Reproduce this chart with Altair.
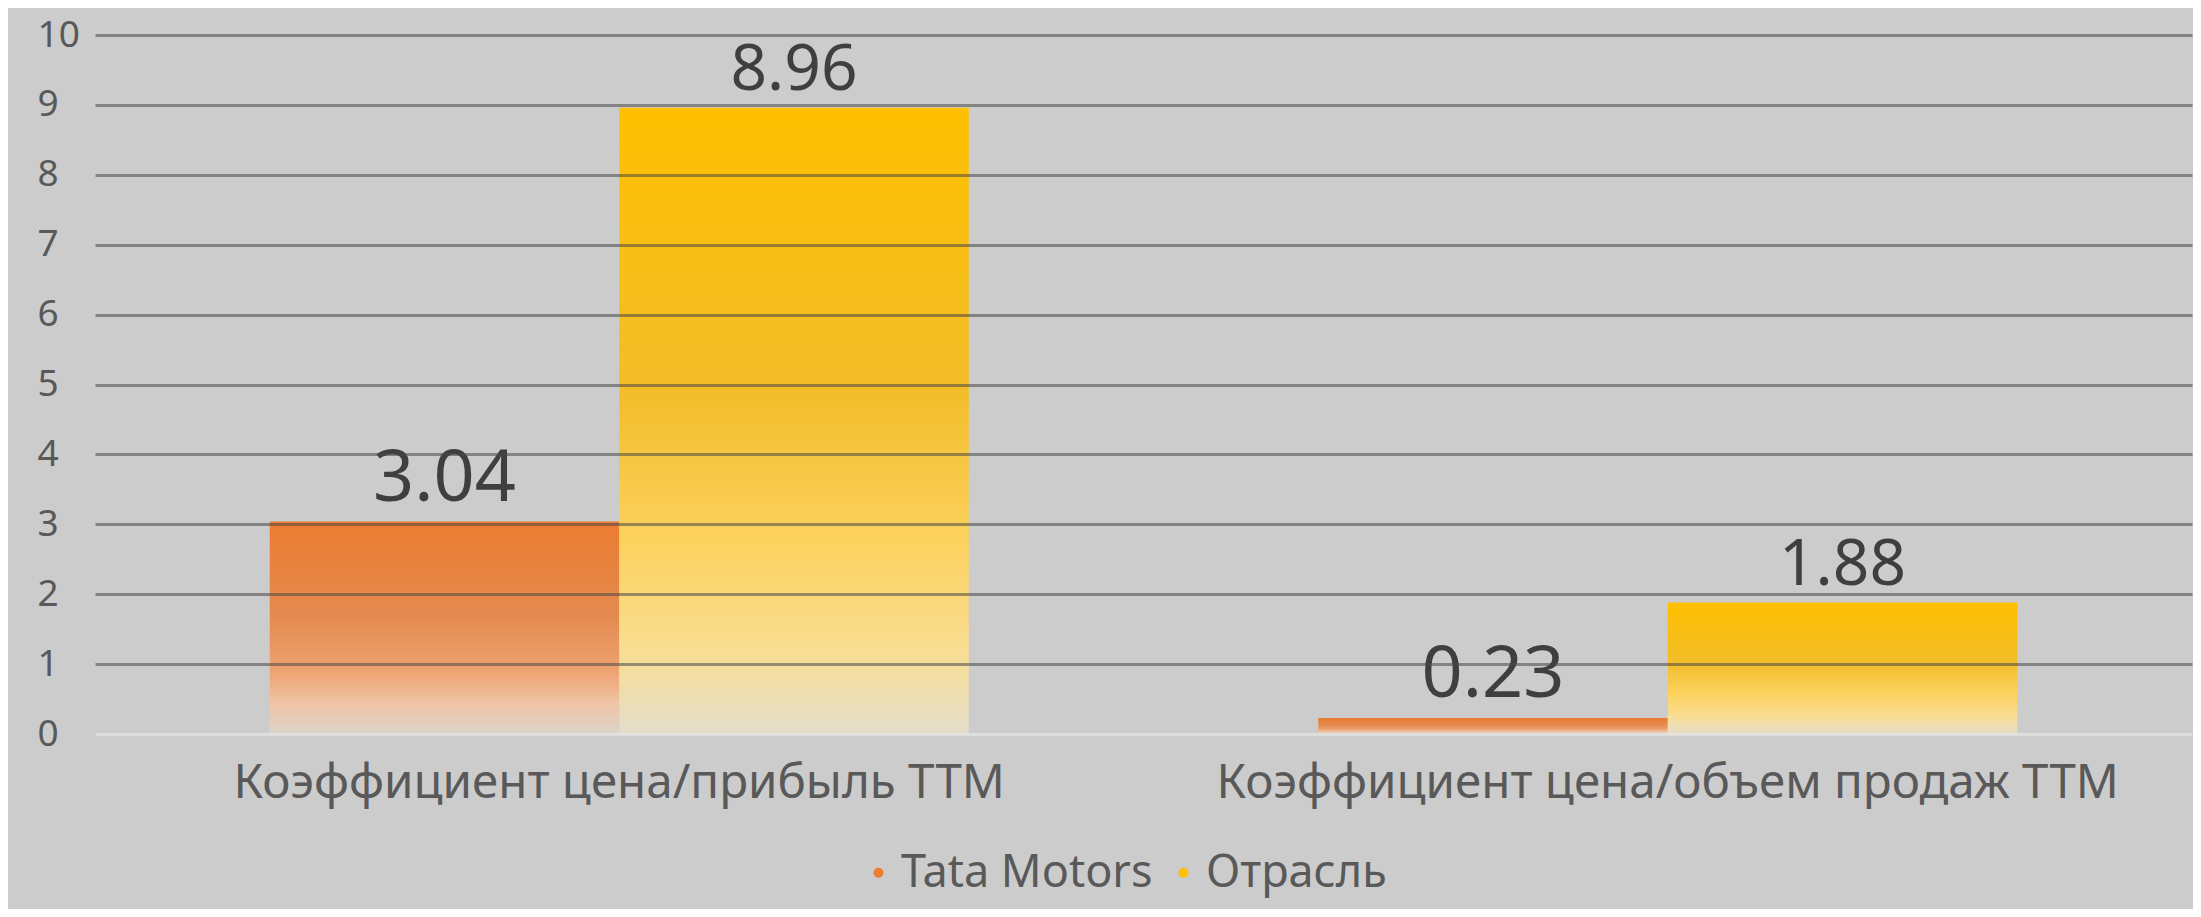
import altair as alt
import pandas as pd

categories = ["Коэффициент цена/прибыль TTM", "Коэффициент цена/объем продаж TTM"]
series = ["Tata Motors", "Отрасль"]
tata_values = [3.04, 0.23]
industry_values = [8.96, 1.88]
y_ticks = list(range(0, 11))
series_colors = ["#ed7d31", "#ffc000"]

rows = []
for c, v in zip(categories, tata_values):
    rows.append({"category": c, "series": series[0], "value": v})
for c, v in zip(categories, industry_values):
    rows.append({"category": c, "series": series[1], "value": v})
df = pd.DataFrame(rows)

FONT = "Noto Sans"

grad_orange = alt.Gradient(
    gradient="linear", x1=0, y1=0, x2=0, y2=1,
    stops=[
        alt.GradientStop(offset=0.0, color="#ec7c30"),
        alt.GradientStop(offset=0.45, color="#e48a50"),
        alt.GradientStop(offset=0.7, color="#eea270"),
        alt.GradientStop(offset=0.86, color="#f0c4a6"),
        alt.GradientStop(offset=1.0, color="#ddd4cc"),
    ],
)
grad_yellow = alt.Gradient(
    gradient="linear", x1=0, y1=0, x2=0, y2=1,
    stops=[
        alt.GradientStop(offset=0.0, color="#ffc000"),
        alt.GradientStop(offset=0.45, color="#f2bd28"),
        alt.GradientStop(offset=0.7, color="#fcd260"),
        alt.GradientStop(offset=0.86, color="#f9dd90"),
        alt.GradientStop(offset=1.0, color="#e4ddca"),
    ],
)

base = alt.Chart(df).encode(
    x=alt.X(
        "category:N",
        sort=categories,
        scale=alt.Scale(domain=categories, paddingInner=1 / 3, paddingOuter=1 / 6),
        axis=alt.Axis(
            title=None, domain=False, ticks=False, grid=False, labelAngle=0,
            labelFont=FONT, labelFontSize=47.5, labelColor="#595959",
            labelPadding=63, labelBaseline="alphabetic", labelLimit=0,
        ),
    ),
    xOffset=alt.XOffset(
        "series:N", sort=series,
        scale=alt.Scale(domain=series, paddingInner=0, paddingOuter=0),
    ),
    y=alt.Y(
        "value:Q",
        scale=alt.Scale(domain=[0, 10], nice=False),
        axis=alt.Axis(
            title=None, values=y_ticks, domain=False, ticks=False, tickSize=0,
            labelAlign="left", labelPadding=58, labelBaseline="middle",
            labelFont=FONT, labelFontSize=37, labelColor="#595959", labelLimit=0,
            grid=True, gridWidth=3, gridOpacity=0.55,
            gridColor=alt.condition("datum.value == 0", alt.value("#ececec"), alt.value("#474747")),
            zindex=1,
        ),
    ),
)

tata_bars = base.transform_filter(alt.datum.series == series[0]).mark_bar(fill=grad_orange, strokeWidth=0)
ind_bars = base.transform_filter(alt.datum.series == series[1]).mark_bar(fill=grad_yellow, strokeWidth=0)

tata_text = base.transform_filter(alt.datum.series == series[0]).mark_text(
    baseline="alphabetic", align="center", dy=-21, font=FONT, fontSize=72, color="#3f3f3f"
).encode(text=alt.Text("value:Q", format=".2f"))
ind_text = base.transform_filter(alt.datum.series == series[1]).mark_text(
    baseline="alphabetic", align="center", dy=-18, font=FONT, fontSize=64, color="#3f3f3f"
).encode(text=alt.Text("value:Q", format=".2f"))

legend_layer = base.mark_point(filled=True, opacity=0).encode(
    color=alt.Color(
        "series:N", sort=series,
        scale=alt.Scale(domain=series, range=series_colors),
        legend=alt.Legend(
            title=None, orient="none", legendX=753, legendY=815, direction="horizontal",
            symbolType="circle", symbolSize=100, symbolOpacity=1, symbolStrokeWidth=0,
            symbolOffset=8,
            labelFont=FONT, labelFontSize=45, labelColor="#595959", labelOffset=0,
            columnPadding=0, padding=0, labelLimit=0,
        ),
    )
)

chart = alt.layer(tata_bars, ind_bars, tata_text, ind_text, legend_layer).properties(
    width=2097,
    height=699,
    padding={"left": 87, "top": 27, "right": 1, "bottom": 175},
    autosize=alt.AutoSizeParams(type="none"),
).configure(background="#cccccc").configure_view(stroke=None)

chart.save("out.html", embed_options={"renderer": "svg", "actions": False})
